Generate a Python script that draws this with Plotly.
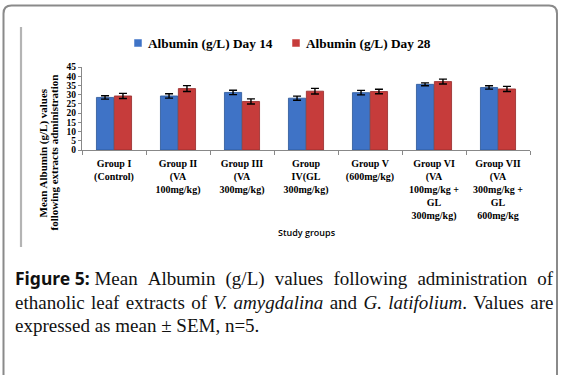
import plotly.graph_objects as go

groups = [
    "Group I<br>(Control)",
    "Group II<br>(VA<br>100mg/kg)",
    "Group III<br>(VA<br>300mg/kg)",
    "Group<br>IV(GL<br>300mg/kg)",
    "Group V<br>(600mg/kg)",
    "Group VI<br>(VA<br>100mg/kg +<br>GL<br>300mg/kg)",
    "Group VII<br>(VA<br>300mg/kg +<br>GL<br>600mg/kg",
]
day14 = [28.5, 29.3, 31.2, 28.1, 31.1, 35.6, 33.9]
day14_sem = [0.9, 1.2, 1.2, 1.1, 1.2, 0.8, 0.9]
day28 = [29.3, 33.3, 26.3, 31.9, 31.7, 37.1, 33.1]
day28_sem = [1.4, 1.6, 1.4, 1.5, 1.2, 1.3, 1.4]
y_ticks = [0, 5, 10, 15, 20, 25, 30, 35, 40, 45]
series_names = ["Albumin (g/L) Day 14", "Albumin (g/L) Day 28"]

BLUE = "#3f73c6"
RED = "#c63c3b"
SERIF = "Liberation Serif"

W, H = 561, 376
ML, MR, MT, MB = 82, 31, 67, 226
PW, PH = W - ML - MR, H - MT - MB


def px(x):
    return (x - ML) / PW


def py(y):
    return (H - MB - y) / PH


fig = go.Figure()
fig.add_trace(go.Bar(
    x=groups, y=day14, name=series_names[0],
    marker=dict(color=BLUE, line=dict(color="#2a5597", width=0.8)),
    error_y=dict(type="data", array=day14_sem, color="black", thickness=1.4, width=4),
))
fig.add_trace(go.Bar(
    x=groups, y=day28, name=series_names[1],
    marker=dict(color=RED, line=dict(color="#952a29", width=0.8)),
    error_y=dict(type="data", array=day28_sem, color="black", thickness=1.4, width=4),
))

fig.update_layout(
    width=W, height=H,
    margin=dict(l=ML, r=MR, t=MT, b=MB, autoexpand=False),
    paper_bgcolor="white", plot_bgcolor="white",
    barmode="group", bargap=0.44, bargroupgap=0.04,
    font=dict(family=SERIF, color="black"),
    showlegend=False,
)

fig.update_yaxes(
    range=[0, 45], tickvals=y_ticks, ticks="outside", ticklen=3,
    tickcolor="#888", showline=True, linecolor="#888", linewidth=1,
    showgrid=False, zeroline=False, automargin=False,
    tickfont=dict(family=SERIF, size=9.5, weight="bold"),
)
fig.update_xaxes(
    showline=True, linecolor="#888", linewidth=1, ticks="outside",
    tickson="boundaries", ticklen=4, tickcolor="#888", showgrid=False,
    tickangle=0, automargin=False, ticklabelstandoff=4,
    tickfont=dict(family=SERIF, size=10, weight="bold"),
)

# custom legend (small squares close to the text, as in the original)
for name, col, sx in [(series_names[0], BLUE, 138), (series_names[1], RED, 296)]:
    fig.add_shape(type="rect", xref="paper", yref="paper",
                  x0=px(sx - 3.5), x1=px(sx + 3.5), y0=py(46.5), y1=py(39.5),
                  fillcolor=col, line=dict(color=col, width=0.5))
    fig.add_annotation(
        text=name, xref="paper", yref="paper", x=px(sx + 8), y=py(43),
        xanchor="left", yanchor="middle", showarrow=False,
        font=dict(family=SERIF, size=13.3, weight="bold"),
    )

# y-axis title: two tight lines, centered low as in the original
for line_txt, lx in [("Mean Albumin (g/L) values", 42.5),
                     ("following extracts administration", 53.5)]:
    fig.add_annotation(
        text=line_txt, xref="paper", yref="paper", x=px(lx), y=py(153),
        textangle=-90, showarrow=False, xanchor="center", yanchor="middle",
        font=dict(family=SERIF, size=11, weight="bold"),
    )
fig.add_annotation(
    text="Study groups", xref="paper", yref="paper", x=px(307), y=py(232),
    showarrow=False, xanchor="center", yanchor="middle",
    font=dict(family="Open Sans", size=9, weight=600),
)

# caption (spaces widened slightly to imitate justified text)
th = "\u2009"
hs = "\u200a"
cap1 = ("<span style=\"font-family:Noto Sans;font-weight:bold;font-size:17.5px\">Figure 5:</span> "
        + (" " + th + hs).join(["Mean", "Albumin", "(g/L)", "values", "following", "administration", "of"]))
cap2 = (" " + hs).join(["ethanolic", "leaf", "extracts", "of", "<i>V.", "amygdalina</i>", "and",
                        "<i>G.", "latifolium</i>.", "Values", "are"])
cap3 = "expressed as mean ± SEM, n=5."
for txt, yy in [(cap1, 277.5), (cap2, 302.5), (cap3, 325.5)]:
    fig.add_annotation(
        text=txt, xref="paper", yref="paper",
        x=px(13), y=py(yy),
        xanchor="left", yanchor="middle", showarrow=False,
        font=dict(family=SERIF, size=19, color="#111"),
    )

# frame shapes
x0, y0, x1, y1, r = 3.5, 5.5, 557, 375, 8
path = (f"M {px(x0)},{py(y1)} L {px(x0)},{py(y0 + r)} "
        f"Q {px(x0)},{py(y0)} {px(x0 + r)},{py(y0)} "
        f"L {px(x1 - r)},{py(y0)} Q {px(x1)},{py(y0)} {px(x1)},{py(y0 + r)} "
        f"L {px(x1)},{py(y1)}")
fig.add_shape(type="path", xref="paper", yref="paper", path=path,
              line=dict(color="#8a8a8a", width=2))
fig.add_shape(type="line", xref="paper", yref="paper",
              x0=px(21), x1=px(21), y0=py(27), y1=py(247),
              line=dict(color="#b4b4b4", width=2.2))

fig.write_html("out.html", config={"displayModeBar": False},
               post_script="document.body.style.margin='0';document.body.style.overflow='hidden';")
